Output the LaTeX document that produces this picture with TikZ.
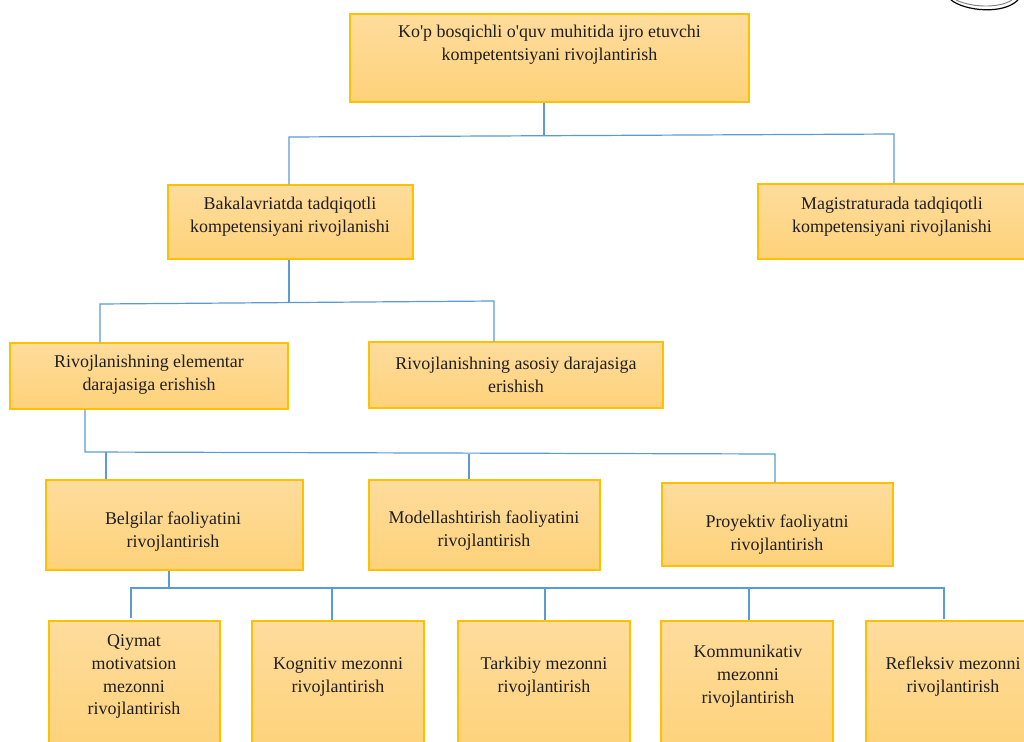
\documentclass[tikz,border=0pt]{standalone}
\usepackage{fontspec}
\newfontfamily\labfont{Liberation Serif}
\definecolor{boxtop}{HTML}{FEDC9C}
\definecolor{boxbot}{HTML}{FED27A}
\definecolor{boxline}{HTML}{FFC000}
\definecolor{linkblue}{HTML}{5B9BD5}
\definecolor{txt}{HTML}{1E1E1E}
\tikzset{
  boxstyle/.style={draw=boxline,line width=1.1pt,top color=boxtop,bottom color=boxbot,inner sep=0pt,rectangle},
  label text/.style={text=txt,align=center,inner sep=0pt,font=\labfont\fontsize{13.45pt}{17.2pt}\selectfont},
  link/.style={draw=linkblue,line width=0.9pt},
}
\newcommand{\bx}[8]{%
  \pgfmathsetmacro{\bxw}{(#4-#2)*0.75}\pgfmathsetmacro{\bxh}{(#5-#3)*0.75}%
  \node[boxstyle,minimum width=\bxw pt,minimum height=\bxh pt] (#1) at ({(#2+#4)/2},{(#3+#5)/2}) {};
  \node[label text] (#1-t) at (#6,#7) {#8};}
\begin{document}
\begin{tikzpicture}[x=0.75pt,y=-0.75pt]
\useasboundingbox (0,0) rectangle (1024,742);
\clip (0,0) rectangle (1024,742);
\fill[white] (0,0) rectangle (1024,742);
% seal fragment
\draw[black,line width=0.9pt] (951,0) .. controls (965,11) and (1003,15) .. (1018,0);
\draw[gray,line width=0.7pt] (956,0) .. controls (970,7) and (998,9) .. (1012,0);
\bx{top}{350}{14}{749}{102}{549.5}{44.5}{Ko'p bosqichli o'quv muhitida ijro etuvchi\\kompetentsiyani rivojlantirish}
\bx{bak}{168}{185}{413}{259}{290}{216.5}{Bakalavriatda tadqiqotli\\kompetensiyani rivojlanishi}
\bx{mag}{758}{184}{1034}{259}{892}{216.5}{Magistraturada tadqiqotli\\kompetensiyani rivojlanishi}
\bx{ele}{10}{343}{288}{409}{149}{374.5}{Rivojlanishning elementar\\darajasiga erishish}
\bx{aso}{369}{342}{663}{408}{516}{374.5}{Rivojlanishning asosiy darajasiga\\erishish}
\bx{bel}{46}{480}{303}{570}{173}{531.5}{Belgilar faoliyatini\\rivojlantirish}
\bx{mod}{369}{480}{600}{570}{484}{531}{Modellashtirish faoliyatini\\rivojlantirish}
\bx{pro}{662}{483}{893}{566}{777}{534.5}{Proyektiv faoliyatni\\rivojlantirish}
\bx{qiy}{49}{621}{220}{752}{134}{676.5}{Qiymat\\motivatsion\\mezonni\\rivojlantirish}
\bx{kog}{252}{621}{424}{752}{338}{677}{Kognitiv mezonni\\rivojlantirish}
\bx{tar}{458}{621}{630}{752}{544}{677}{Tarkibiy mezonni\\rivojlantirish}
\bx{kom}{661}{621}{833}{752}{748}{676}{Kommunikativ\\mezonni\\rivojlantirish}
\bx{ref}{866}{621}{1040}{752}{953}{677}{Refleksiv mezonni\\rivojlantirish}
% junctions
\coordinate (j1a) at (289,137); \coordinate (j1b) at (894,134); \coordinate (j1c) at (544,135);
\coordinate (j2a) at (100,304); \coordinate (j2b) at (494,301); \coordinate (j2c) at (289,303);
\coordinate (j3a) at (85,452); \coordinate (j3b) at (775,454); \coordinate (j3c) at (106,452); \coordinate (j3d) at (469,453.5);
\coordinate (j4a) at (131,588); \coordinate (j4b) at (944,588); \coordinate (j4c) at (169,588);
\coordinate (j4d) at (332,588); \coordinate (j4e) at (545,588); \coordinate (j4f) at (749,588);
\coordinate (e1) at (131,618); \coordinate (e2) at (944,619);
\draw[link] (top.south -| j1c) -- (j1c);
\draw[link] (bak.north -| j1a) -- (j1a) -- (j1b) -- (mag.north -| j1b);
\draw[link] (bak.south -| j2c) -- (j2c);
\draw[link] (ele.north -| j2a) -- (j2a) -- (j2b) -- (aso.north -| j2b);
\draw[link] (ele.south -| j3a) -- (j3a) -- (j3b) -- (pro.north -| j3b);
\draw[link] (j3c) -- (bel.north -| j3c);
\draw[link] (j3d) -- (mod.north -| j3d);
\draw[link] (bel.south -| j4c) -- (j4c);
\draw[link] (e1) -- (j4a) -- (j4b) -- (e2);
\draw[link] (j4d) -- (kog.north -| j4d);
\draw[link] (j4e) -- (tar.north -| j4e);
\draw[link] (j4f) -- (kom.north -| j4f);
\end{tikzpicture}
\end{document}
